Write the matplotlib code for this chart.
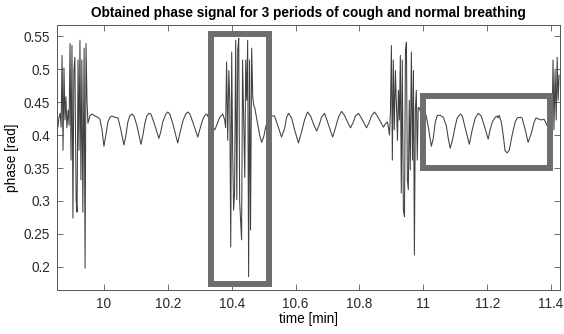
import numpy as np
import matplotlib.pyplot as plt
from matplotlib.patches import Rectangle

plt.rcParams['font.family'] = ['Liberation Sans', 'DejaVu Sans']

# first cough period
cough1_t = [9.853, 9.856, 9.859, 9.863, 9.866, 9.869, 9.872, 9.875, 9.878, 9.881,
            9.884, 9.888, 9.891, 9.894, 9.897, 9.900, 9.903, 9.906, 9.909, 9.913,
            9.916, 9.919, 9.922, 9.925, 9.928, 9.931, 9.934, 9.938, 9.941, 9.944, 9.947]
cough1_p = [0.418, 0.412, 0.426, 0.433, 0.412, 0.521, 0.377, 0.502, 0.423, 0.458,
            0.411, 0.438, 0.415, 0.539, 0.362, 0.536, 0.274, 0.498, 0.518, 0.302,
            0.283, 0.514, 0.377, 0.544, 0.332, 0.514, 0.283, 0.532, 0.198, 0.539, 0.453]

# normal breathing 1
breath1_t = [9.950, 9.956, 9.9625, 9.972, 9.981, 9.9875, 9.994, 10.0, 10.006, 10.0125,
             10.019, 10.025, 10.034, 10.044, 10.053, 10.0625, 10.069, 10.075, 10.081, 10.0875,
             10.094, 10.103, 10.116, 10.122, 10.128, 10.134, 10.141, 10.147, 10.156, 10.172,
             10.178, 10.184, 10.194, 10.2, 10.206, 10.216, 10.231, 10.2375, 10.247, 10.256,
             10.2625, 10.269, 10.278, 10.294, 10.3, 10.309, 10.316, 10.322, 10.328, 10.3375,
             10.347, 10.353, 10.3625, 10.372, 10.378, 10.381]
breath1_p = [0.418, 0.429, 0.432, 0.429, 0.427, 0.424, 0.408, 0.383, 0.400, 0.420,
             0.427, 0.429, 0.427, 0.426, 0.408, 0.385, 0.400, 0.420, 0.429, 0.432,
             0.429, 0.415, 0.386, 0.400, 0.417, 0.429, 0.433, 0.432, 0.420, 0.395,
             0.405, 0.420, 0.432, 0.435, 0.432, 0.417, 0.388, 0.402, 0.421, 0.432,
             0.435, 0.432, 0.420, 0.397, 0.408, 0.423, 0.430, 0.432, 0.426, 0.414,
             0.408, 0.415, 0.427, 0.432, 0.423, 0.411]

# second cough period
cough2_t = [10.384, 10.3875, 10.391, 10.394, 10.397, 10.4, 10.403, 10.406, 10.409, 10.4125,
            10.416, 10.419, 10.422, 10.425, 10.428, 10.431, 10.434, 10.4375, 10.441, 10.444,
            10.447, 10.45, 10.453, 10.456, 10.459, 10.4625, 10.466, 10.469]
cough2_p = [0.511, 0.392, 0.498, 0.453, 0.230, 0.526, 0.377, 0.286, 0.312, 0.544,
            0.302, 0.529, 0.547, 0.298, 0.271, 0.241, 0.514, 0.423, 0.336, 0.514,
            0.453, 0.544, 0.185, 0.514, 0.256, 0.532, 0.458, 0.445]

# normal breathing 2
breath2_t = [10.472, 10.481, 10.4875, 10.494, 10.5, 10.506, 10.5125, 10.522, 10.528, 10.534,
             10.544, 10.556, 10.566, 10.572, 10.578, 10.5875, 10.597, 10.609, 10.619, 10.628,
             10.6375, 10.647, 10.656, 10.666, 10.675, 10.681, 10.691, 10.7, 10.716, 10.725,
             10.734, 10.744, 10.753, 10.7625, 10.772, 10.781, 10.7875, 10.797, 10.806, 10.822,
             10.831, 10.8375, 10.847, 10.856, 10.866, 10.875, 10.881, 10.8875, 10.891, 10.894,
             10.897]
breath2_p = [0.442, 0.418, 0.400, 0.389, 0.397, 0.411, 0.423, 0.429, 0.429, 0.429,
             0.415, 0.397, 0.411, 0.427, 0.433, 0.426, 0.408, 0.388, 0.405, 0.423,
             0.435, 0.429, 0.417, 0.406, 0.417, 0.427, 0.433, 0.420, 0.397, 0.411,
             0.427, 0.436, 0.430, 0.420, 0.411, 0.420, 0.429, 0.433, 0.426, 0.411,
             0.420, 0.429, 0.435, 0.429, 0.420, 0.412, 0.417, 0.420, 0.411, 0.400,
             0.435]

# third cough period
cough3_t = [10.9, 10.903, 10.906, 10.909, 10.9125, 10.916, 10.919, 10.922, 10.925, 10.928,
            10.931, 10.934, 10.9375, 10.941, 10.944, 10.947, 10.95, 10.953, 10.956, 10.959,
            10.9625, 10.966, 10.969, 10.972, 10.975, 10.978, 10.981, 10.984, 10.9875, 10.991]
cough3_p = [0.536, 0.362, 0.514, 0.408, 0.498, 0.438, 0.392, 0.468, 0.423, 0.521,
            0.312, 0.514, 0.286, 0.276, 0.529, 0.541, 0.332, 0.317, 0.453, 0.347,
            0.526, 0.362, 0.498, 0.218, 0.438, 0.468, 0.362, 0.442, 0.441, 0.435]

# normal breathing 3
breath3_t = [10.997, 11.003, 11.009, 11.016, 11.025, 11.031, 11.0375, 11.044, 11.053, 11.0625,
             11.072, 11.078, 11.084, 11.091, 11.1, 11.106, 11.116, 11.122, 11.131, 11.144,
             11.153, 11.1625, 11.172, 11.181, 11.191, 11.203, 11.209, 11.216, 11.225, 11.231,
             11.234, 11.2375, 11.244, 11.25, 11.256, 11.2625, 11.269, 11.278, 11.2875, 11.294,
             11.303, 11.309, 11.319, 11.328, 11.3375, 11.347, 11.353, 11.3625, 11.369, 11.378,
             11.384, 11.391, 11.397]
breath3_p = [0.435, 0.438, 0.429, 0.411, 0.383, 0.395, 0.420, 0.430, 0.430, 0.427,
             0.414, 0.395, 0.380, 0.392, 0.414, 0.426, 0.432, 0.429, 0.411, 0.386,
             0.408, 0.426, 0.433, 0.429, 0.414, 0.394, 0.408, 0.420, 0.427, 0.429,
             0.426, 0.430, 0.420, 0.400, 0.376, 0.373, 0.377, 0.400, 0.420, 0.426,
             0.427, 0.426, 0.408, 0.389, 0.402, 0.420, 0.426, 0.424, 0.423, 0.424,
             0.418, 0.411, 0.415]

# start of the fourth cough period
cough4_t = [11.4, 11.403, 11.406, 11.409, 11.4125, 11.416, 11.419, 11.422, 11.425]
cough4_p = [0.438, 0.411, 0.514, 0.408, 0.498, 0.423, 0.518, 0.453, 0.491]

xticks = [10, 10.2, 10.4, 10.6, 10.8, 11, 11.2, 11.4]
yticks = [0.2, 0.25, 0.3, 0.35, 0.4, 0.45, 0.5, 0.55]

tiempo = np.concatenate([cough1_t, breath1_t, cough2_t, breath2_t,
                         cough3_t, breath3_t, cough4_t])
fase = np.concatenate([cough1_p, breath1_p, cough2_p, breath2_p,
                       cough3_p, breath3_p, cough4_p])

fig = plt.figure(figsize=(5.64, 3.34), dpi=100)
ax = fig.add_axes([0.101, 0.132, 0.892, 0.793])

ax.plot(tiempo, fase, color='#404040', linewidth=0.75)

# highlighted regions
ax.add_patch(Rectangle((10.334, 0.174), 0.182, 0.379, fill=False,
                       edgecolor='#6e6e6e', linewidth=4.3, zorder=3))
ax.add_patch(Rectangle((11.0, 0.350), 0.395, 0.109, fill=False,
                       edgecolor='#6e6e6e', linewidth=4.3, zorder=3))

ax.set_xlim(9.853, 11.428)
ax.set_ylim(0.165, 0.567)
ax.set_xticks(xticks)
ax.set_xticklabels(['10', '10.2', '10.4', '10.6', '10.8', '11', '11.2', '11.4'])
ax.set_yticks(yticks)
ax.set_yticklabels(['0.2', '0.25', '0.3', '0.35', '0.4', '0.45', '0.5', '0.55'])
ax.tick_params(direction='in', top=True, right=True, length=4, width=0.6,
               color='#555555', labelsize=9.8, labelcolor='#2a2a2a', pad=5)
for s in ax.spines.values():
    s.set_color('#555555')
    s.set_linewidth(0.7)

ax.set_title('Obtained phase signal for 3 periods of cough and normal breathing',
             fontsize=9.8, fontweight='bold', pad=6)
ax.set_xlabel('time [min]', fontsize=9.8, labelpad=1)
ax.set_ylabel('phase [rad]', fontsize=9.8, labelpad=3)

fig.savefig('out.png', dpi=100)
